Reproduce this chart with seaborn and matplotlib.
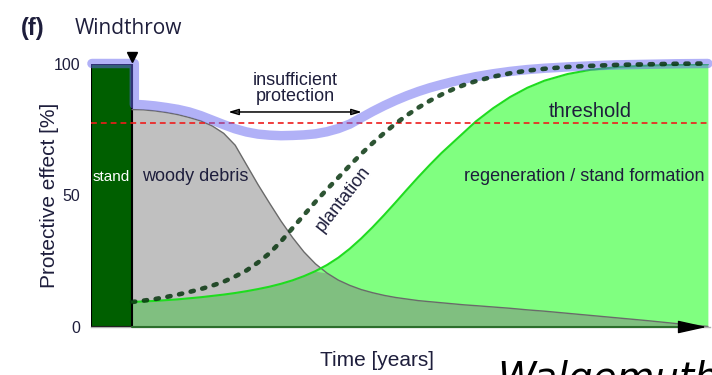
import numpy as np
import matplotlib
matplotlib.use("Agg")
import matplotlib.pyplot as plt
import seaborn as sns

# ---- data -------------------------------------------------------------
# years after the windthrow event
years = [0, 2, 4, 6, 8, 10, 12, 14, 16, 18, 20, 22, 24, 26, 28, 30, 32, 34,
         36, 38, 40, 42, 44, 46, 48, 50, 52, 54, 56, 58, 60, 63, 66, 69, 72,
         76, 80, 85, 90, 95, 100.5]

# protective effect [%] of the lying woody debris
woody_debris = [82.5, 82.4, 82.0, 81.4, 80.6, 79.5, 78.2, 76.3, 73.5, 69.0,
                61.5, 54.0, 47.0, 40.2, 34.0, 28.5, 24.0, 20.5, 17.8, 15.8,
                14.2, 13.0, 12.0, 11.2, 10.6, 10.0, 9.6, 9.2, 8.8, 8.4, 8.1,
                7.6, 7.1, 6.5, 6.0, 5.2, 4.4, 3.4, 2.4, 1.3, 0.2]

# protective effect [%] of natural regeneration / stand formation
regeneration = [9.5, 9.7, 9.9, 10.2, 10.5, 10.9, 11.3, 11.8, 12.3, 12.9,
                13.6, 14.4, 15.3, 16.4, 17.7, 19.3, 21.2, 23.5, 26.3, 29.7,
                33.6, 37.9, 42.5, 47.3, 52.2, 57.0, 61.6, 66.0, 70.0, 74.0,
                78.0, 83.0, 87.3, 90.8, 93.5, 96.0, 97.6, 98.7, 99.2, 99.5,
                99.7]

# protective effect [%] with plantation
plantation = [9.5, 10.0, 10.6, 11.4, 12.3, 13.3, 14.4, 15.7, 17.2, 19.2,
              21.5, 24.5, 28.0, 32.5, 37.5, 42.5, 47.5, 52.2, 56.7, 61.3,
              65.7, 69.8, 73.6, 77.2, 80.4, 83.3, 85.9, 88.2, 90.2, 91.9,
              93.3, 95.0, 96.3, 97.3, 98.0, 98.7, 99.1, 99.5, 99.7, 99.9,
              100.0]

# overall protection (stand before the event, then the combined effect)
total_years = [-7, 0.4, 0.4, 2, 4, 6, 8, 10, 12, 14, 16, 18, 20, 22, 24, 26,
               28, 30, 32, 34, 36, 38, 40, 42, 44, 46, 48, 50, 52, 54, 56, 58,
               60, 63, 66, 69, 72, 76, 80, 85, 90, 95, 100.5]
total_protection = [100, 100, 84.5, 84.3, 83.9, 83.3, 82.6, 81.6, 80.2, 78.5,
                    76.8, 75.2, 74.0, 73.2, 72.8, 72.6, 72.7, 72.9, 73.3, 74.1,
                    75.3, 77.0, 79.4, 81.8, 84.0, 86.0, 87.8, 89.4, 90.8, 92.0,
                    93.1, 94.1, 95.0, 96.1, 97.0, 97.7, 98.2, 98.7, 99.1, 99.5,
                    99.7, 99.9, 100.0]

stand_effect = 100
threshold = 77.3
windthrow_year = 0
gap_years = [16.8, 40.1]          # period of insufficient protection
y_ticks = [0, 50, 100]

# ---- style ------------------------------------------------------------
sns.set_theme(style="white")
plt.rcParams['font.family'] = ['Liberation Sans', 'DejaVu Sans']
txt = '#1e1e3c'

fig = plt.figure(figsize=(7.12, 3.75), dpi=100)
ax = fig.add_axes([91 / 712, 48 / 375, 619 / 712, 263.5 / 375])
ax.set_xlim(-7.16, 100.87)
ax.set_ylim(0, 100)

deb = np.array(woody_debris)
reg = np.array(regeneration)

# filled areas
ax.fill_between(years, 0, deb, color='#c0c0c0', lw=0, zorder=1)
ax.fill_between(years, 0, reg, color='#80ff80', lw=0, zorder=1.2)
ax.fill_between(years, 0, np.minimum(deb, reg), color='#80bf80', lw=0,
                zorder=1.4)

# stand before the windthrow
ax.bar(-3.55, stand_effect, width=7.1, color='#005f00', edgecolor='black',
       linewidth=1.5, zorder=2)

# curve outlines
sns.lineplot(x=years, y=woody_debris, color='#6a6a6a', lw=1.0, ax=ax,
             zorder=2)
sns.lineplot(x=years, y=regeneration, color='#1fdc1f', lw=1.5, ax=ax,
             zorder=2)

# threshold
ax.axhline(threshold, color='#ee1c1c', lw=1.2, dashes=(3.5, 2.4), zorder=2.5)

# overall protection band
sns.lineplot(x=total_years, y=total_protection, sort=False, estimator=None,
             color='#6464f0', alpha=0.5, lw=6.8, ax=ax, zorder=3)
band = ax.lines[-1]
band.set_solid_capstyle('round')
band.set_solid_joinstyle('round')
band.set_clip_on(False)

# plantation (dotted)
sns.lineplot(x=years, y=plantation, color='#08360f', alpha=0.85, lw=3.3,
             ax=ax, zorder=4)
pl = ax.lines[-1]
pl.set_dashes((0.7, 1.9))
pl.set_dash_capstyle('round')
pl.set_clip_on(False)

# time axis with arrow
ax.plot([0, 97], [0, 0], color='#2d6e2d', lw=1.5, zorder=5, clip_on=False)
ax.annotate('', xy=(100.3, 0), xytext=(95.5, 0),
            arrowprops=dict(arrowstyle='-|>,head_length=1.8,head_width=0.4',
                            mutation_scale=10, color='black', lw=1,
                            shrinkA=0, shrinkB=0),
            zorder=6, annotation_clip=False)

# windthrow marker
ax.plot(windthrow_year, 102.5, marker='v', color='black', ms=7.5,
        clip_on=False, zorder=6)

# insufficient protection arrow
ax.annotate('', xy=(gap_years[0], 81.6), xytext=(gap_years[1], 81.6),
            arrowprops=dict(arrowstyle='<|-|>,head_length=0.5,head_width=0.15',
                            mutation_scale=12, color='black', lw=1.1,
                            shrinkA=0, shrinkB=0, fill=False),
            zorder=6)
ax.text(np.mean(gap_years), 90.5, 'insufficient\nprotection', ha='center',
        va='center', fontsize=13, color=txt, linespacing=0.95, zorder=6)

# labels inside the chart
ax.text(-3.55, 56.9, 'stand', ha='center', va='center', fontsize=11,
        color='white', zorder=6)
ax.text(1.7, 57, 'woody debris', ha='left', va='center', fontsize=13,
        color=txt, zorder=6)
ax.text(79.9, 81.8, 'threshold', ha='center', va='center', fontsize=14.5,
        color=txt, zorder=6)
ax.text(78.9, 57, 'regeneration / stand formation', ha='center',
        va='center', fontsize=13, color=txt, zorder=6)
ax.text(36.9, 48.5, 'plantation', ha='center', va='center', fontsize=13,
        color=txt, rotation=52, rotation_mode='anchor', zorder=6)

# axes
for s in ['top', 'right', 'left']:
    ax.spines[s].set_visible(False)
ax.spines['bottom'].set_color('#b0b0b0')
ax.spines['bottom'].set_linewidth(1.0)
ax.set_xticks([])
ax.set_yticks(y_ticks)
ax.set_yticklabels([str(v) for v in y_ticks], fontsize=11.5, color=txt)
ax.tick_params(axis='y', length=0, pad=8)
ax.grid(False)

fig.text(50 / 712, 1 - 195 / 375, 'Protective effect [%]', rotation=90,
         ha='center', va='center', fontsize=15, color=txt)
fig.text(377 / 712, 1 - 360 / 375, 'Time [years]', ha='center',
         va='center', fontsize=15, color=txt)
fig.text(21 / 712, 1 - 28 / 375, '(f)', ha='left', va='center',
         fontsize=17, fontweight='bold', color=txt)
fig.text(75 / 712, 1 - 28 / 375, 'Windthrow', ha='left', va='center',
         fontsize=15, color=txt, family=['Open Sans', 'DejaVu Sans'])
fig.text(497 / 712, 1 - 360 / 375, 'Walgemuth', ha='left', va='top',
         fontsize=28, style='italic', color='black',
         family=['DejaVu Sans'])

fig.savefig('out.png', dpi=100)
